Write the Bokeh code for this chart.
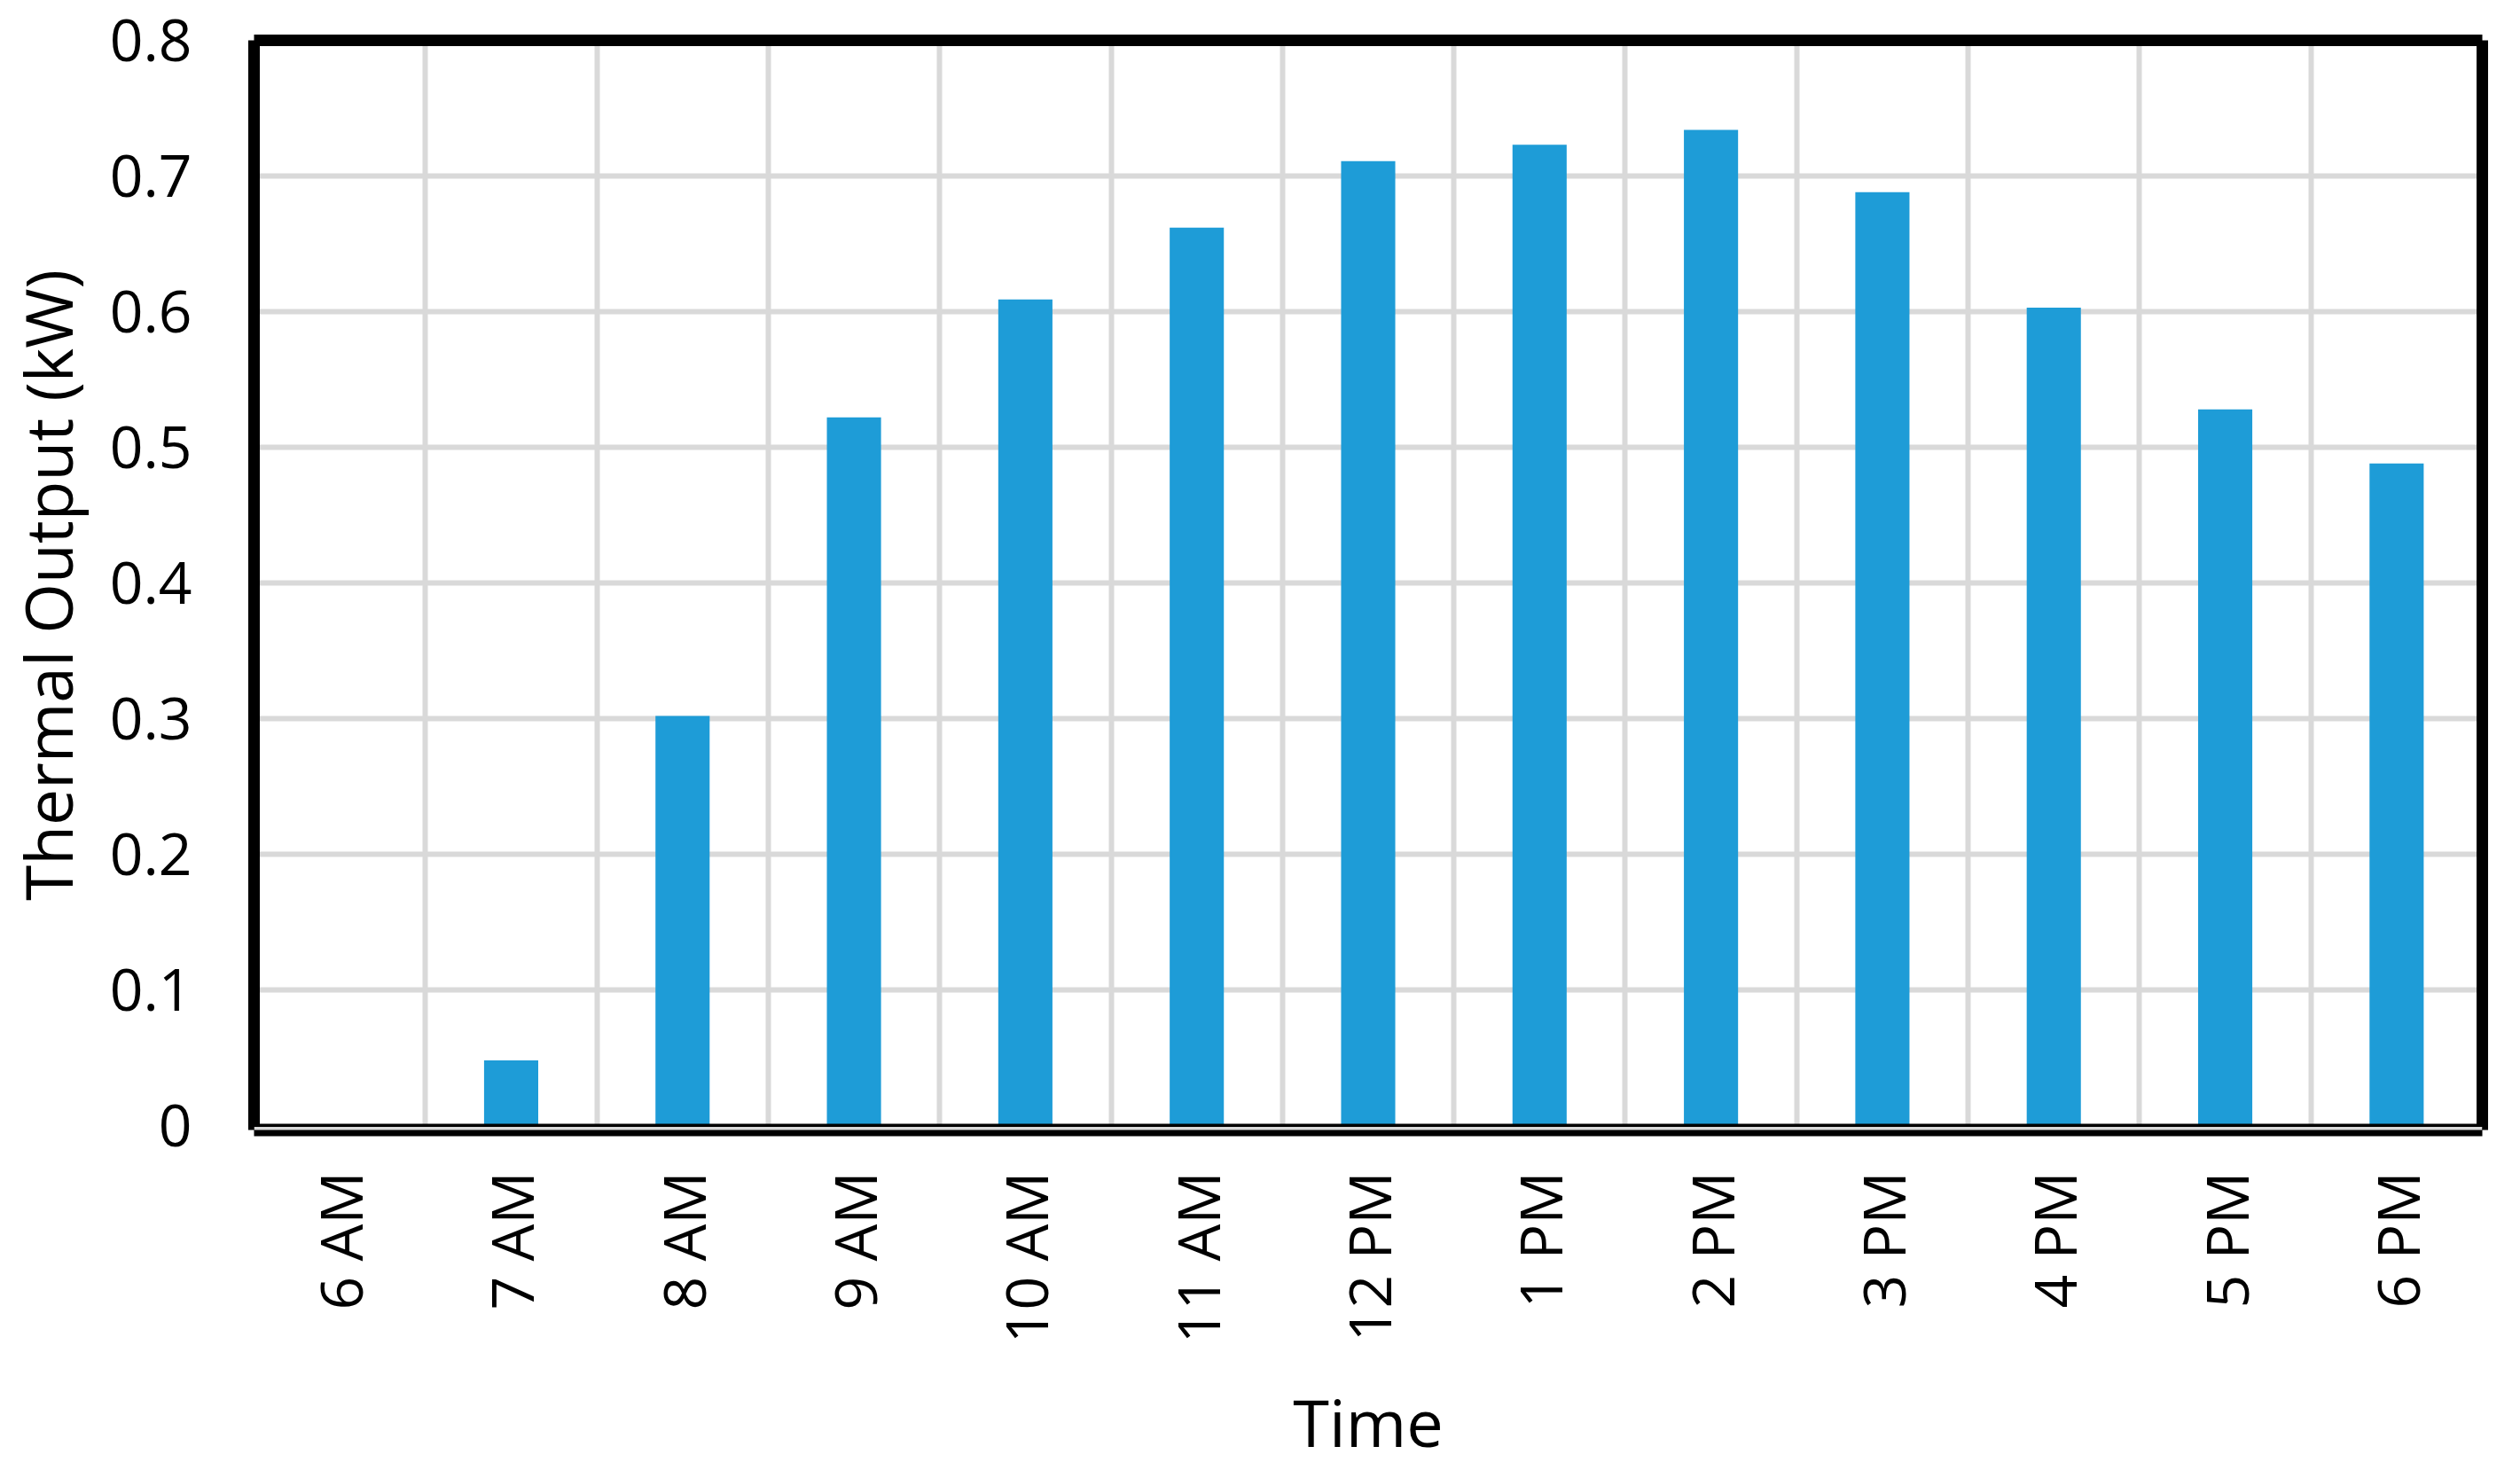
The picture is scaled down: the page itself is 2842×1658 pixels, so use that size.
import numpy as np
from bokeh.plotting import figure
from bokeh.models import Range1d, FixedTicker, LinearAxis, Grid, Span
from bokeh.embed import file_html
from bokeh.resources import INLINE

# ---- data ----
categories = ["6 AM", "7 AM", "8 AM", "9 AM", "10 AM", "11 AM", "12 PM",
              "1 PM", "2 PM", "3 PM", "4 PM", "5 PM", "6 PM"]
thermal_output = [0.0, 0.048, 0.302, 0.522, 0.609, 0.662, 0.711,
                  0.723, 0.734, 0.688, 0.603, 0.528, 0.488]
y_ticks = [0.0, 0.1, 0.2, 0.3, 0.4, 0.5, 0.6, 0.7, 0.8]
y_tick_labels = ["0", "0.1", "0.2", "0.3", "0.4", "0.5", "0.6", "0.7", "0.8"]
x_label = "Time"
y_label = "Thermal Output (kW)"

FONT = "Open Sans"
BAR_COLOR = "#1e9cd7"
GRID_COLOR = "#d9d9d9"

n = len(categories)
x_centers = np.arange(n) + 0.5
y_bottom = -0.00327

p = figure(frame_width=2513, frame_height=1229, output_backend="svg", toolbar_location=None,
           x_range=Range1d(0, n), y_range=Range1d(y_bottom, 0.8),
           x_axis_type=None, y_axis_type=None,
           min_border_left=282, min_border_right=39, min_border_top=45,
           min_border_bottom=300)
p.outline_line_color = None
p.background_fill_color = "white"
p.border_fill_color = "white"

# grids
p.add_layout(Grid(dimension=0, ticker=FixedTicker(ticks=list(range(1, n))),
                  grid_line_color=GRID_COLOR, grid_line_width=6))
p.add_layout(Grid(dimension=1, ticker=FixedTicker(ticks=y_ticks[1:-1]),
                  grid_line_color=GRID_COLOR, grid_line_width=6))

# bars
p.vbar(x=x_centers, top=thermal_output, bottom=0, width=0.316,
       fill_color=BAR_COLOR, line_color=None)

# left axis
yax = LinearAxis(ticker=FixedTicker(ticks=y_ticks),
                 major_label_overrides={t: l for t, l in zip(y_ticks, y_tick_labels)})
yax.axis_line_width = 13
yax.axis_line_color = "black"
yax.major_tick_line_color = None
yax.minor_tick_line_color = None
yax.major_label_standoff = 64
yax.major_label_text_font = FONT
yax.major_label_text_font_size = "66px"
yax.major_label_text_color = "black"
yax.axis_label = y_label
yax.axis_label_text_font = FONT
yax.axis_label_text_font_size = "73px"
yax.axis_label_text_font_style = "normal"
yax.axis_label_text_color = "black"
yax.axis_label_standoff = 18
p.add_layout(yax, "left")

# bottom axis
xax = LinearAxis(ticker=FixedTicker(ticks=list(x_centers)),
                 major_label_overrides={float(c): lab for c, lab in zip(x_centers, categories)})
xax.axis_line_width = 14
xax.axis_line_color = "black"
xax.major_tick_line_color = None
xax.minor_tick_line_color = None
xax.major_label_orientation = np.pi / 2
xax.major_label_standoff = 41
xax.major_label_text_font = FONT
xax.major_label_text_font_size = "66px"
xax.major_label_text_color = "black"
xax.axis_label = x_label
xax.axis_label_text_font = FONT
xax.axis_label_text_font_size = "74px"
xax.axis_label_text_font_style = "normal"
xax.axis_label_text_color = "black"
xax.axis_label_standoff = 35
p.add_layout(xax, "below")

# top and right frame lines
for side in ("above", "right"):
    ax = LinearAxis(ticker=FixedTicker(ticks=[]))
    ax.axis_line_width = 13
    ax.axis_line_color = "black"
    ax.major_tick_line_color = None
    ax.minor_tick_line_color = None
    ax.major_label_text_font_size = "0px"
    p.add_layout(ax, side)

# floor strip
p.add_layout(Span(location=y_bottom, dimension="width", line_color=GRID_COLOR,
                  line_width=7, level="overlay"))

open("out.html", "w").write(file_html(p, INLINE))
